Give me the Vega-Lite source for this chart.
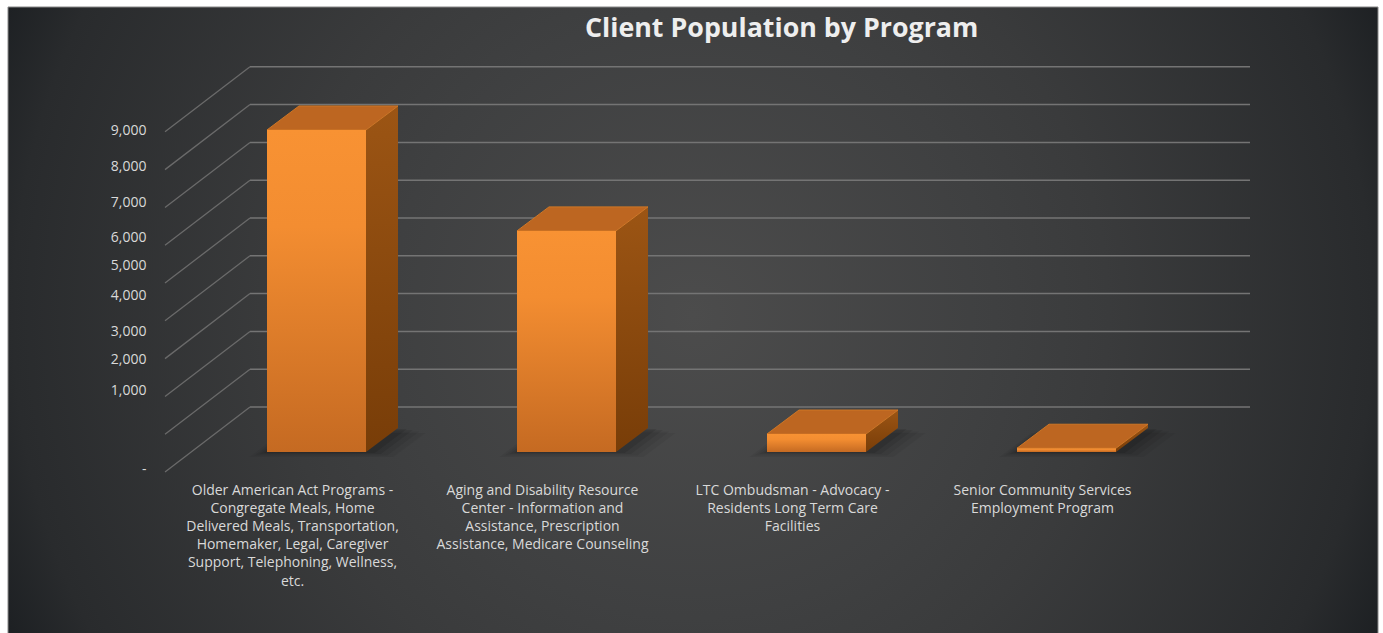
{"$schema":"https://vega.github.io/schema/vega-lite/v6.json","width":1383,"height":633,"autosize":"none","padding":0,"background":"#ffffff","title":{"text":"Client Population by Program","anchor":"start","align":"left","dx":585,"dy":428.5,"offset":0,"baseline":"middle","font":"Open Sans","fontSize":26.8,"fontWeight":"bold","color":"#eeeeee"},"config":{"view":{"stroke":null}},"datasets":{"programs":[{"program":"Older American Act Programs -\nCongregate Meals, Home\nDelivered Meals, Transportation,\nHomemaker, Legal, Caregiver\nSupport, Telephoning, Wellness,\netc.","value":8520},{"program":"Aging and Disability Resource\nCenter - Information and\nAssistance, Prescription\nAssistance, Medicare Counseling","value":5850},{"program":"LTC Ombudsman - Advocacy -\nResidents Long Term Care\nFacilities","value":476},{"program":"Senior Community Services\nEmployment Program","value":100}],"levels":[{"level":0},{"level":1000},{"level":2000},{"level":3000},{"level":4000},{"level":5000},{"level":6000},{"level":7000},{"level":8000},{"level":9000}]},"resolve":{"scale":{"x":"independent","y":"independent"},"axis":{"x":"independent","y":"independent"}},"layer":[{"layer":[{"data":{"values":[{"panel":"background"}]},"mark":{"type":"rect","stroke":"#8a8a8a","strokeWidth":1,"fill":{"gradient":"radial","x1":0.5,"y1":0.5,"r1":0,"x2":0.5,"y2":0.5,"r2":0.55,"stops":[{"offset":0,"color":"#4c4c4c"},{"offset":0.4,"color":"#3f4041"},{"offset":0.55,"color":"#3a3b3c"},{"offset":0.9,"color":"#292b2d"},{"offset":1,"color":"#1d2023"}]}},"encoding":{"x":{"datum":-0.628,"type":"quantitative","scale":{"domain":[-0.66,4.872],"range":[0,1383],"zero":false,"nice":false},"axis":null},"x2":{"datum":4.852},"y":{"datum":22328,"type":"quantitative","scale":{"domain":[-4259,12487],"range":[633,0],"zero":false,"nice":false},"axis":null},"y2":{"datum":-14021}}},{"data":{"values":[{"panel":"margin"}]},"mark":{"type":"rect","fill":"#ffffff"},"encoding":{"x":{"datum":-0.66,"type":"quantitative"},"x2":{"datum":4.872},"y":{"datum":12487,"type":"quantitative"},"y2":{"datum":12302}}},{"data":{"values":[{"panel":"edge"}]},"mark":{"type":"rule","color":"#8a8a8a","strokeWidth":1},"encoding":{"x":{"datum":-0.628,"type":"quantitative"},"x2":{"datum":4.852},"y":{"datum":12302,"type":"quantitative"}}},{"data":{"name":"levels"},"transform":[{"calculate":"datum.level+1720","as":"back"}],"mark":{"type":"rule","color":"#747474","strokeWidth":1.5},"encoding":{"x":{"datum":0.34,"type":"quantitative"},"x2":{"datum":4.34},"y":{"field":"back","type":"quantitative"}}},{"data":{"name":"levels"},"transform":[{"calculate":"[0,1]","as":"t"},{"flatten":["t"]},{"calculate":"datum.t*0.34","as":"px"},{"calculate":"datum.level+datum.t*1720","as":"py"}],"mark":{"type":"line","color":"#6a6a6a","strokeWidth":1.3},"encoding":{"x":{"field":"px","type":"quantitative"},"y":{"field":"py","type":"quantitative"},"detail":{"field":"level"}}},{"data":{"name":"programs"},"transform":[{"window":[{"op":"row_number","as":"rank"}]},{"calculate":"datum.rank-1+0.408","as":"L"},{"calculate":"datum.rank-1+0.804","as":"R"},{"calculate":"[0,1]","as":"t"},{"flatten":["t"]},{"calculate":"529+datum.t*635","as":"base"},{"calculate":"datum.base+datum.value","as":"top"},{"calculate":"datum.R+datum.t*0.128","as":"sx"},{"calculate":"datum.L+datum.t*0.128","as":"tx"},{"calculate":"datum.R+datum.t*0.128","as":"tx2"}],"layer":[{"transform":[{"calculate":"datum.tx-0.07","as":"a"},{"calculate":"datum.tx2+0.11","as":"b"},{"calculate":"datum.base-130","as":"c"}],"mark":{"type":"area","orient":"horizontal","color":"#000000","opacity":0.05},"encoding":{"y":{"field":"c","type":"quantitative"},"x":{"field":"a","type":"quantitative"},"x2":{"field":"b"},"detail":{"field":"program"}}},{"transform":[{"calculate":"datum.tx-0.05","as":"a"},{"calculate":"datum.tx2+0.085","as":"b"},{"calculate":"datum.base-90","as":"c"}],"mark":{"type":"area","orient":"horizontal","color":"#000000","opacity":0.06},"encoding":{"y":{"field":"c","type":"quantitative"},"x":{"field":"a","type":"quantitative"},"x2":{"field":"b"},"detail":{"field":"program"}}},{"transform":[{"calculate":"datum.tx-0.03","as":"a"},{"calculate":"datum.tx2+0.06","as":"b"},{"calculate":"datum.base-55","as":"c"}],"mark":{"type":"area","orient":"horizontal","color":"#000000","opacity":0.08},"encoding":{"y":{"field":"c","type":"quantitative"},"x":{"field":"a","type":"quantitative"},"x2":{"field":"b"},"detail":{"field":"program"}}},{"transform":[{"calculate":"datum.tx-0.012","as":"a"},{"calculate":"datum.tx2+0.035","as":"b"},{"calculate":"datum.base-25","as":"c"}],"mark":{"type":"area","orient":"horizontal","color":"#000000","opacity":0.1},"encoding":{"y":{"field":"c","type":"quantitative"},"x":{"field":"a","type":"quantitative"},"x2":{"field":"b"},"detail":{"field":"program"}}},{"mark":{"type":"area","fill":{"gradient":"linear","x1":0,"y1":0,"x2":0,"y2":1,"stops":[{"offset":0,"color":"#9c5514"},{"offset":1,"color":"#783d08"}]}},"encoding":{"x":{"field":"sx","type":"quantitative"},"y":{"field":"top","type":"quantitative"},"y2":{"field":"base"},"detail":{"field":"program"}}},{"mark":{"type":"area","orient":"horizontal","color":"#bd6621","stroke":"#cf7726","strokeWidth":1},"encoding":{"y":{"field":"top","type":"quantitative"},"x":{"field":"tx","type":"quantitative"},"x2":{"field":"tx2"},"detail":{"field":"program"}}},{"transform":[{"filter":"datum.t==0"}],"mark":{"type":"rect","fill":{"gradient":"linear","x1":0,"y1":0,"x2":0,"y2":1,"stops":[{"offset":0,"color":"#f89233"},{"offset":0.3,"color":"#f38d31"},{"offset":1,"color":"#c56a22"}]}},"encoding":{"x":{"field":"L","type":"quantitative"},"x2":{"field":"R"},"y":{"field":"top","type":"quantitative"},"y2":{"field":"base"}}}]}]},{"data":{"name":"programs"},"mark":{"type":"bar","opacity":0},"encoding":{"x":{"field":"program","type":"nominal","sort":null,"scale":{"range":[191.5,1191.5],"paddingInner":0.6,"paddingOuter":0.3},"axis":{"orient":"bottom","offset":-150,"zindex":2,"title":null,"domain":false,"ticks":false,"tickSize":0,"labelAngle":0,"labelAlign":"center","labelBaseline":"top","labelPadding":0,"labelOffset":-24,"labelFont":"Open Sans","labelFontSize":14,"labelColor":"#d9d9d9","labelLimit":500,"labelLineHeight":18.2,"labelOverlap":false,"labelExpr":"split(datum.label,'\\n')","grid":false}},"y":{"field":"value","type":"quantitative","scale":{"domain":[0,1000,2000,3000,4000,5000,6000,7000,8000,9000],"range":[469,390,359,331,295,265,237,202,166,130]},"axis":{"orient":"left","offset":-146,"zindex":2,"title":null,"domain":false,"ticks":false,"tickSize":0,"grid":false,"values":[0,1000,2000,3000,4000,5000,6000,7000,8000,9000],"labelPadding":0,"labelFont":"Open Sans","labelFontSize":14,"labelColor":"#d9d9d9","labelOverlap":false,"labelExpr":"datum.value==0?'-':format(datum.value,',')"}}}}]}
